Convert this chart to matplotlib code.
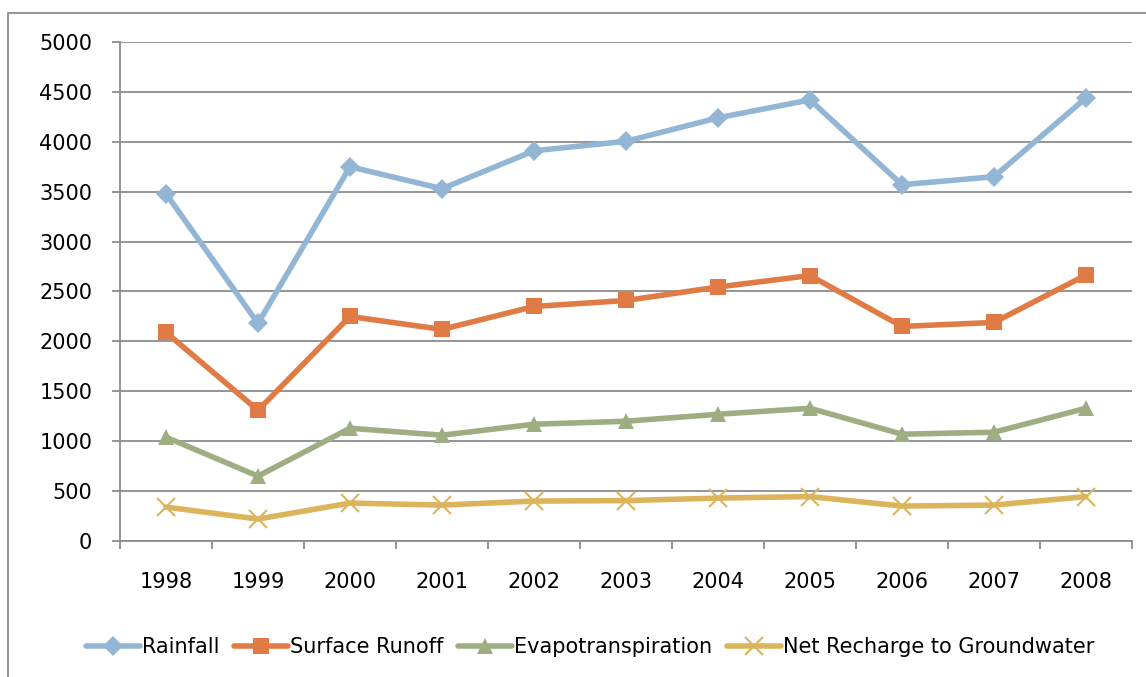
import matplotlib
matplotlib.use("Agg")
import matplotlib.pyplot as plt
from matplotlib.patches import Rectangle
import numpy as np

years = ["1998", "1999", "2000", "2001", "2002", "2003", "2004", "2005", "2006", "2007", "2008"]
rainfall = [3480, 2180, 3750, 3530, 3910, 4005, 4240, 4420, 3570, 3650, 4440]
surface_runoff = [2090, 1310, 2250, 2120, 2350, 2410, 2545, 2660, 2150, 2190, 2665]
evapotranspiration = [1040, 650, 1130, 1060, 1170, 1200, 1270, 1330, 1070, 1090, 1330]
net_recharge = [340, 220, 380, 360, 400, 405, 430, 445, 350, 360, 445]

SERIES = [
    ("Rainfall", rainfall, "#93b6d4", "D", 10),
    ("Surface Runoff", surface_runoff, "#e07b45", "s", 11),
    ("Evapotranspiration", evapotranspiration, "#9fae82", "^", 12),
    ("Net Recharge to Groundwater", net_recharge, "#dcb45c", "x", 13),
]

plt.rcParams["font.family"] = ["DejaVu Sans"]

fig = plt.figure(figsize=(11.46, 6.77), dpi=100)
fig.patches.append(Rectangle((8 / 1146, -0.05), 1.2, (677 - 13) / 677 + 0.05,
                             transform=fig.transFigure, fill=False,
                             edgecolor="#8c8c8c", linewidth=1.3))
ax = fig.add_axes([120 / 1146, 136 / 677, 1012 / 1146, 499 / 677])

x = np.arange(len(years))
for label, vals, color, marker, ms in SERIES:
    kw = dict(markeredgewidth=1.5) if marker == "x" else dict(markeredgewidth=0)
    ax.plot(x, vals, color=color, linewidth=4, marker=marker, markersize=ms,
            markerfacecolor=color, markeredgecolor=color, label=label,
            solid_capstyle="round", **kw)

ax.set_xlim(-0.5, len(years) - 0.5)
ax.set_ylim(0, 5000)
ax.set_yticks(np.arange(0, 5001, 500))
ax.set_xticks(x)
ax.set_xticklabels(years)
ax.set_xticks(np.arange(-0.5, len(years), 1.0), minor=True)
ax.tick_params(axis="x", which="major", length=0, pad=22, labelsize=15)
ax.tick_params(axis="x", which="minor", length=6, color="#8c8c8c", width=1.3)
ax.tick_params(axis="y", length=6, color="#8c8c8c", width=1.3, labelsize=15, pad=14)

ax.grid(True, axis="y", color="#8c8c8c", linewidth=1.3)
ax.set_axisbelow(True)
for side in ("top", "right"):
    ax.spines[side].set_visible(False)
for side in ("left", "bottom"):
    ax.spines[side].set_color("#8c8c8c")
    ax.spines[side].set_linewidth(1.3)

fig.legend(loc="center", bbox_to_anchor=(0.515, 1 - 647 / 677), ncol=4,
           frameon=False, fontsize=15, handlelength=2.6, handletextpad=0.1,
           columnspacing=0.7)

fig.savefig("out.png", dpi=100)
